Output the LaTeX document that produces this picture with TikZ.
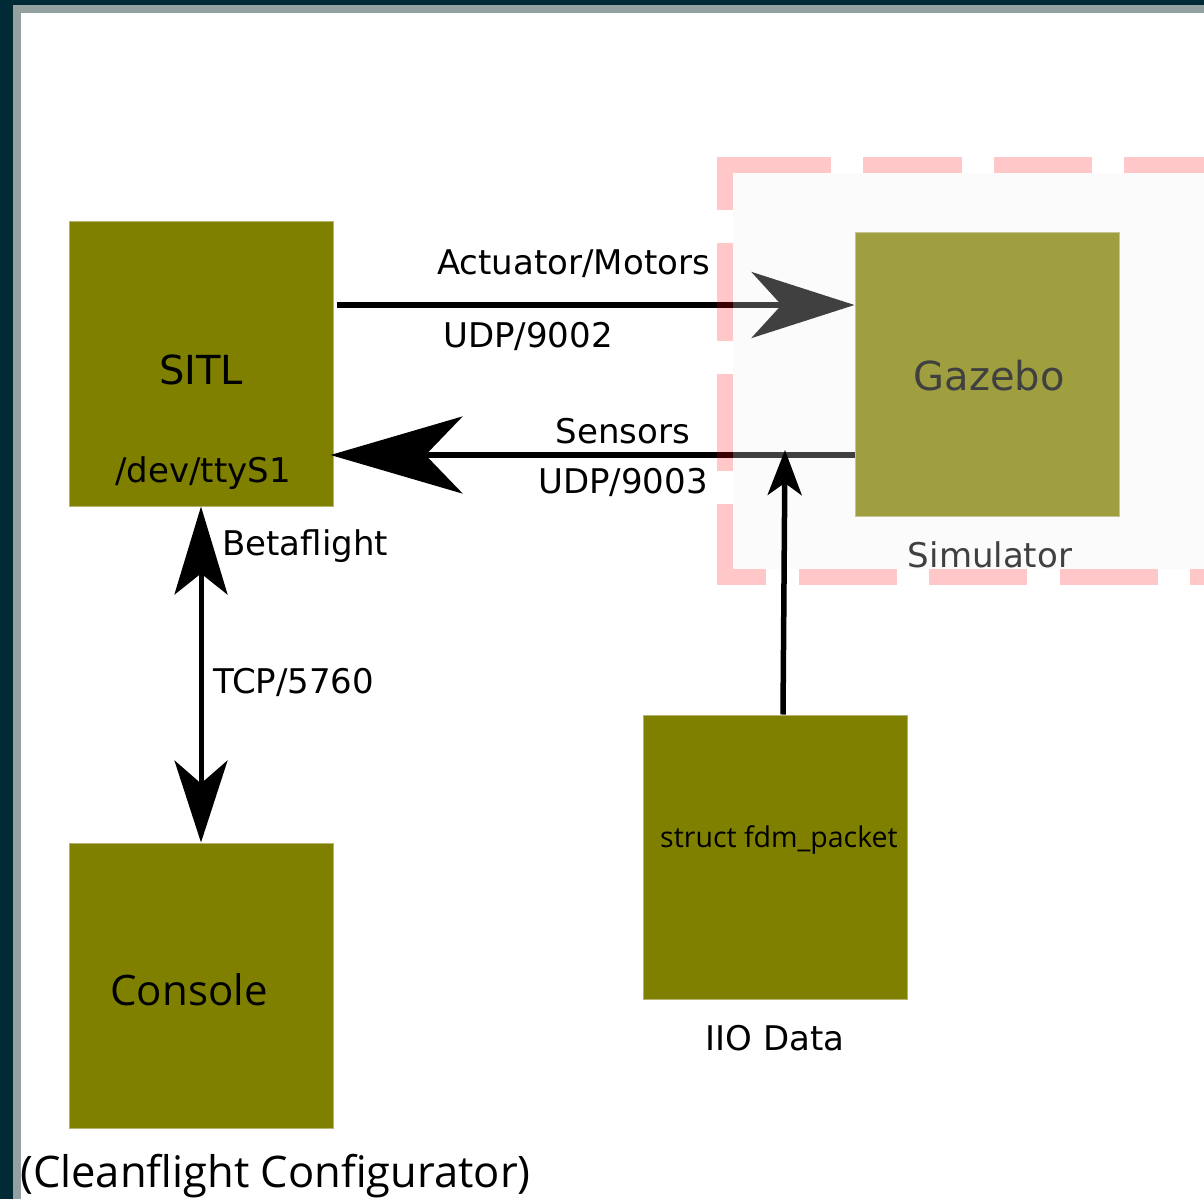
\documentclass[tikz,border=0pt]{standalone}
\usepackage{fontspec}
\setmainfont{DejaVu Sans}
\newfontfamily\opensans{Open Sans}
\usetikzlibrary{arrows.meta,calc}
\definecolor{bgdark}{HTML}{002B36}
\definecolor{bggray}{HTML}{93A1A1}
\definecolor{boxolive}{HTML}{808000}
\definecolor{boxedge}{HTML}{B4B470}
\definecolor{simfill}{HTML}{FAFAFA}
\begin{document}
\begin{tikzpicture}[x=1pt,y=-1pt,
  box/.style={rectangle, fill=boxolive, draw=boxedge, line width=1pt,
    minimum width=264pt, minimum height=285pt, inner sep=0pt, anchor=center},
  lbl/.style={inner sep=0pt, anchor=base, font=\fontsize{34}{40}\selectfont},
  lblw/.style={inner sep=0pt, anchor=base west, font=\fontsize{34}{40}\selectfont},
  big/.style={inner sep=0pt, anchor=base, font=\fontsize{40}{48}\selectfont},
  osbig/.style={inner sep=0pt, anchor=base, font=\opensans\fontsize{42}{50}\selectfont},
  conn/.style={line width=5.5pt, draw=black, line cap=butt},
  simborder/.style={draw=red, draw opacity=0.22, line width=16pt, line cap=butt}
]
\useasboundingbox (0,0) rectangle (1204,1199);
% page frame
\fill[bgdark] (0,0) rectangle (1204,1199);
\fill[bggray] (13,5) rectangle (1204,1199);
\fill[white] (21,13) rectangle (1204,1199);
% simulator group background
\fill[simfill] (733,173) rectangle (1204,569);

% boxes
\node[box] (sitl) at (201,363.5) {};
\node[box] (console) at (201,985.5) {};
\node[box, minimum height=284pt] (iio) at (775,857) {};

% labels in / near boxes
\node[big] (sitltxt) at (201,384) {SITL};
\node[lbl] (devtxt) at (203,482) {/dev/ttyS1};
\node[osbig] (contxt) at (189,1005) {Console};
\node[inner sep=0pt, anchor=base west, font=\opensans\fontsize{43.5}{50}\selectfont] (cfgtxt) at (20,1187) {(Cleanflight Configurator)};
\node[inner sep=0pt, anchor=base, font=\opensans\fontsize{28.5}{32}\selectfont] (fdmtxt) at (779,847) {struct fdm\_packet};
\node[lbl] (iiotxt) at (775,1050) {IIO Data};

% connector labels
\node[lblw] (acttxt) at (437,274) {Actuator/Motors};
\node[lblw] (udp2txt) at (443,347) {UDP/9002};
\node[lbl] (senstxt) at (623,443) {Sensors};
\node[lbl] (udp3txt) at (623,493) {UDP/9003};
\node[lblw] (betatxt) at (222,555) {Betaflight};
\node[lblw] (tcptxt) at (213,693) {TCP/5760};

% connectors under the simulator overlay
\node[box, minimum height=284pt] (gazebo) at (987,374) {};
\draw[conn, shorten <=3pt, -{Stealth[length=103pt, width=66pt, inset=30pt]}]
  (sitl.east |- 0,305) -- (gazebo.west |- 0,305);
\draw[conn, shorten >=-3pt, -{Stealth[length=132pt, width=77pt, inset=37pt]}]
  (gazebo.west |- 0,455) -- (sitl.east |- 0,455);
\node[big] (gazetxt) at (989,390) {Gazebo};
\node[lbl] (simtxt) at (990,567) {Simulator};

% simulator overlay and dashed border
\fill[white, fill opacity=0.25] (733,173) rectangle (1204,569);
\draw[simborder]
  (717,165) -- (831,165) (863,165) -- (962,165) (994,165) -- (1092,165) (1124,165) -- (1204,165)
  (725,157) -- (725,210) (725,243) -- (725,341) (725,374) -- (725,471) (725,504) -- (725,585)
  (733,577) -- (766,577) (799,577) -- (897,577) (929,577) -- (1027,577) (1060,577) -- (1158,577) (1190,577) -- (1204,577);

% connectors above the overlay
\coordinate (iiotip) at (785,450);
\draw[conn, -{Stealth[length=45pt, width=34pt, inset=12pt]}]
  ($(iio.north)+(8,0)$) -- (iiotip);
\draw[conn, line width=5pt,
  {Stealth[length=88pt, width=53pt, inset=21pt]}-{Stealth[length=82pt, width=53pt, inset=23pt]}]
  (sitl.south) -- (console.north);
\end{tikzpicture}
\end{document}
